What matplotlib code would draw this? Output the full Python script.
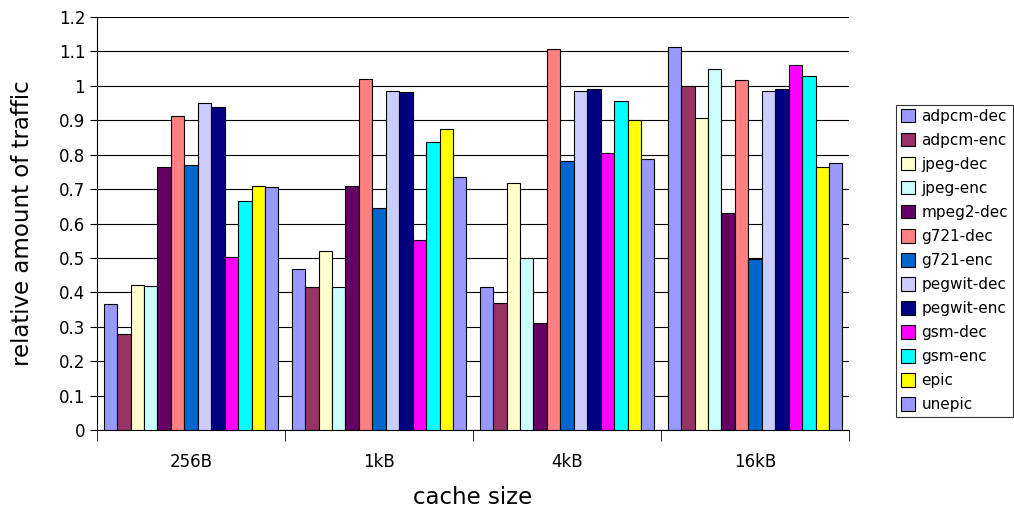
import numpy as np
import matplotlib.pyplot as plt
from matplotlib.ticker import FormatStrFormatter

cache_sizes = ['256B', '1kB', '4kB', '16kB']
benchmarks = ['adpcm-dec', 'adpcm-enc', 'jpeg-dec', 'jpeg-enc', 'mpeg2-dec',
              'g721-dec', 'g721-enc', 'pegwit-dec', 'pegwit-enc', 'gsm-dec',
              'gsm-enc', 'epic', 'unepic']
colors = ['#9999FF', '#993366', '#FFFFCC', '#CCFFFF', '#660066', '#FF8080',
          '#0066CC', '#CCCCFF', '#000080', '#FF00FF', '#00FFFF', '#FFFF00',
          '#9999FF']

# one row per benchmark, one column per cache size
traffic = [
    [0.365, 0.467, 0.417, 1.112],
    [0.280, 0.417, 0.368, 1.000],
    [0.421, 0.521, 0.718, 0.908],
    [0.419, 0.415, 0.500, 1.048],
    [0.765, 0.710, 0.312, 0.632],
    [0.911, 1.020, 1.108, 1.018],
    [0.770, 0.645, 0.783, 0.498],
    [0.951, 0.985, 0.985, 0.985],
    [0.940, 0.982, 0.991, 0.992],
    [0.503, 0.553, 0.804, 1.062],
    [0.665, 0.838, 0.955, 1.030],
    [0.710, 0.876, 0.900, 0.763],
    [0.705, 0.735, 0.788, 0.775],
]

fig = plt.figure(figsize=(10.14, 5.08), dpi=100)
ax = fig.add_axes([0.0957, 0.1535, 0.7416, 0.813])

x = np.arange(len(cache_sizes))
group_w = 0.93
bw = group_w / len(benchmarks)
for i, (name, vals) in enumerate(zip(benchmarks, traffic)):
    off = -group_w / 2 + bw * (i + 0.5)
    ax.bar(x + off, vals, bw, color=colors[i], edgecolor='black',
           linewidth=0.8, label=name, zorder=3)

ax.set_xlim(-0.5, 3.5)
ax.set_ylim(0, 1.2)
ax.set_yticks(np.arange(0, 1.21, 0.1))
ax.yaxis.set_major_formatter(FormatStrFormatter('%g'))
ax.yaxis.grid(True, color='black', linewidth=0.8, zorder=0)
ax.set_axisbelow(True)

ax.set_xticks(x)
ax.set_xticklabels(cache_sizes, fontsize=12)
ax.set_xticks(np.arange(-0.5, 3.6, 1), minor=True)
ax.tick_params(axis='x', which='major', length=0, pad=16.5)
ax.tick_params(axis='x', which='minor', length=8, color='black')
ax.tick_params(axis='y', length=5, labelsize=12)

for s in ['top', 'right']:
    ax.spines[s].set_visible(False)

ax.set_xlabel('cache size', fontsize=16.5, labelpad=11)
ax.set_ylabel('relative amount of traffic', fontsize=16.5, labelpad=18)

leg = ax.legend(loc='center left', bbox_to_anchor=(1.063, 0.41), fontsize=11,
                frameon=True, fancybox=False, edgecolor='black',
                handlelength=0.95, handleheight=0.95, handletextpad=0.4,
                labelspacing=0.59, borderpad=0.3, borderaxespad=0)
leg.get_frame().set_linewidth(0.8)

fig.savefig('out.png', dpi=100)
